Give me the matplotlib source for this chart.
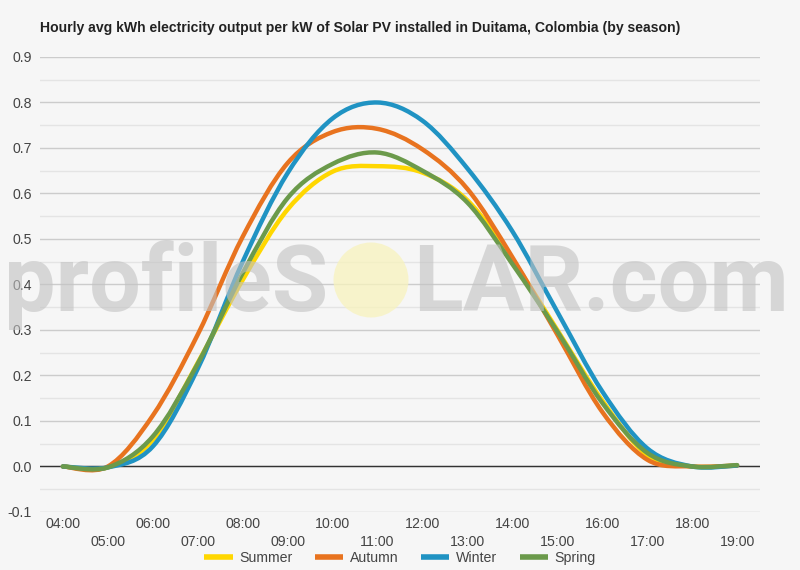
import matplotlib
matplotlib.use("Agg")
import matplotlib.pyplot as plt
import numpy as np
from matplotlib.path import Path
from matplotlib.patches import PathPatch, Circle
from matplotlib.lines import Line2D

hours = list(range(4, 20))
hour_labels = [f"{h:02d}:00" for h in hours]

summer = [0.0, -0.002, 0.058, 0.228, 0.41, 0.565, 0.648, 0.66, 0.646, 0.585, 0.455, 0.30, 0.145, 0.025, 0.0, 0.002]
autumn = [0.0, 0.0, 0.112, 0.29, 0.505, 0.667, 0.735, 0.742, 0.697, 0.61, 0.46, 0.29, 0.12, 0.015, 0.0, 0.002]
winter = [0.0, -0.002, 0.044, 0.215, 0.45, 0.645, 0.765, 0.80, 0.76, 0.655, 0.517, 0.34, 0.165, 0.04, 0.0, 0.002]
spring = [0.0, -0.002, 0.066, 0.226, 0.425, 0.59, 0.665, 0.69, 0.65, 0.58, 0.445, 0.297, 0.14, 0.03, 0.0, 0.003]

series = [
    ("Summer", summer, "#ffd700"),
    ("Autumn", autumn, "#e8731f"),
    ("Winter", winter, "#2093c3"),
    ("Spring", spring, "#6b9a4b"),
]

BG = "#f6f6f6"
FS = 10.2


def smooth_path(x, y):
    # catmull-rom curve through the points, drawn as cubic bezier segments
    pts = np.column_stack([x, y]).astype(float)
    n = len(pts)
    verts = [pts[0]]
    codes = [Path.MOVETO]
    for i in range(n - 1):
        p0 = pts[max(i - 1, 0)]
        p1 = pts[i]
        p2 = pts[i + 1]
        p3 = pts[min(i + 2, n - 1)]
        c1 = p1 + (p2 - p0) / 6.0
        c2 = p2 - (p3 - p1) / 6.0
        verts += [c1, c2, p2]
        codes += [Path.CURVE4] * 3
    return Path(verts, codes)


fig = plt.figure(figsize=(8, 5.7), dpi=100, facecolor=BG)
ax = fig.add_axes([0.05, 0.1018, 0.9, 0.7982], facecolor=BG)

ax.set_xlim(3.49, 19.51)
ax.set_ylim(-0.1, 0.9)

ax.set_yticks(np.arange(-0.1, 0.91, 0.1))
ax.set_yticks(np.arange(-0.05, 0.9, 0.1), minor=True)
ax.set_yticklabels([f"{v:.1f}" for v in np.arange(-0.1, 0.91, 0.1)])
ax.grid(axis="y", which="major", color="#cccccc", linewidth=1)
ax.grid(axis="y", which="minor", color="#e4e4e4", linewidth=1)
ax.set_axisbelow(True)
ax.axhline(0.0, color="#333333", linewidth=1, zorder=1.5)

for s in ax.spines.values():
    s.set_visible(False)

ax.set_xticks(hours)
ax.set_xticklabels(hour_labels)
ax.tick_params(axis="both", length=0, labelsize=FS, labelcolor="#444444")
ax.tick_params(axis="y", pad=6)
ax.tick_params(axis="y", which="minor", left=False)
for i, t in enumerate(ax.xaxis.get_major_ticks()):
    t.set_pad(3.3 if i % 2 == 0 else 16.3)
for lbl in ax.get_xticklabels() + ax.get_yticklabels():
    lbl.set_family("Liberation Sans")

handles = []
for name, vals, col in series:
    patch = PathPatch(smooth_path(hours, vals), fill=False, edgecolor=col,
                      linewidth=3.2, capstyle="round", joinstyle="round", zorder=3)
    ax.add_patch(patch)
    handles.append(Line2D([], [], color=col, linewidth=4, solid_capstyle="butt"))

# watermark
fig.text(328 / 800, 1 - 311 / 570, "profileS", ha="right", va="baseline",
         fontsize=66, family="Roboto", fontweight="bold", color="#c2c2c2", alpha=0.6, zorder=10)
fig.text(413 / 800, 1 - 311 / 570, "LAR.com", ha="left", va="baseline",
         fontsize=66, family="Roboto", fontweight="bold", color="#c2c2c2", alpha=0.6, zorder=10)
fig.patches.append(Circle((371, 570 - 280), 37.5,
                          transform=None, facecolor="#f8f3bd", edgecolor="none",
                          alpha=0.75, zorder=10))

fig.text(40 / 800, 1 - 28 / 570, "Hourly avg kWh electricity output per kW of Solar PV installed in Duitama, Colombia (by season)",
         ha="left", va="center", fontsize=10.1, fontweight="bold", family="Liberation Sans", color="#222222")

fig.legend(handles, [s[0] for s in series], loc="center", bbox_to_anchor=(0.5, 1 - 558 / 570),
           ncol=4, frameon=False, handlelength=2.0, handletextpad=0.45, columnspacing=1.6,
           prop={"family": "Liberation Sans", "size": FS}, labelcolor="#444444")

fig.savefig("out.png", dpi=100, facecolor=BG)
